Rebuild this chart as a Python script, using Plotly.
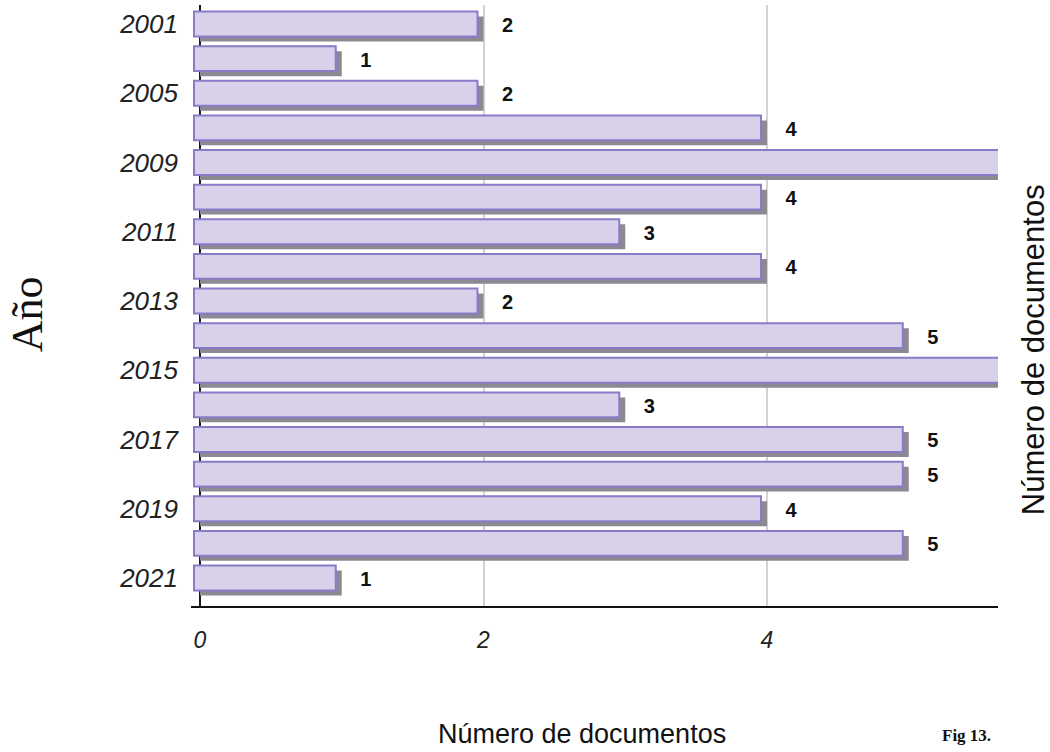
import plotly.graph_objects as go

# Documents per year
years = ["2001", "2003", "2005", "2007", "2009", "2010", "2011", "2012", "2013",
         "2014", "2015", "2016", "2017", "2018", "2019", "2020", "2021"]
documents = [2, 1, 2, 4, 6, 4, 3, 4, 2, 5, 6, 3, 5, 5, 4, 5, 1]
year_ticks = years[::2]
x_ticks = [0, 2, 4]

# Plot geometry (pixels) used to derive offset axes for the shadow effect
W, H = 1050, 752
plot_left, plot_right = 191, 998
plot_top, plot_bottom = 5, 605.7
px_per_unit = 141.75
x_lo = -(200 - plot_left) / px_per_unit
x_hi = x_lo + (plot_right - plot_left) / px_per_unit
y_range = [16.81, -0.55]
pitch = (plot_bottom - plot_top) / (y_range[0] - y_range[1])

bar_shift = 6 / px_per_unit      # main face sits a few px left of its shadow
label_shift = 24 / px_per_unit   # value labels sit right of the bar end
label_drop = 3 / pitch

FILL = "#d9d1ea"
EDGE = "#8a7bc9"
SHADOW = "#8d8993"

fig = go.Figure()

# shadow of each bar
fig.add_trace(go.Bar(
    x=documents, y=years, orientation="h",
    width=0.72, offset=-0.36 + 5 / pitch,
    marker=dict(color=SHADOW, line=dict(width=0)),
    xaxis="x", yaxis="y", hoverinfo="skip", showlegend=False,
))

# bar faces
fig.add_trace(go.Bar(
    x=documents, y=years, orientation="h",
    width=0.72, offset=-0.36,
    marker=dict(color=FILL, line=dict(color=EDGE, width=2)),
    xaxis="x2", yaxis="y", showlegend=False,
))

# value labels (only for bars whose end lies inside the visible range)
label_text = [str(v) if v + label_shift < x_hi - 0.1 else "" for v in documents]
fig.add_trace(go.Scatter(
    x=documents, y=years, mode="text",
    text=label_text, textposition="middle center",
    textfont=dict(family="Liberation Sans, Arial", size=20, color="#111111", weight="bold"),
    xaxis="x3", yaxis="y2", cliponaxis=True, hoverinfo="skip", showlegend=False,
))

fig.update_layout(
    width=W, height=H,
    margin=dict(l=plot_left, r=W - plot_right, t=plot_top, b=H - plot_bottom),
    paper_bgcolor="white", plot_bgcolor="white",
    barmode="overlay",
    xaxis=dict(
        range=[x_lo, x_hi], tickvals=x_ticks, ticktext=[str(t) for t in x_ticks],
        showgrid=True, gridcolor="#d2d2d2", gridwidth=1.5,
        zeroline=True, zerolinecolor="#1a1a1a", zerolinewidth=2,
        showline=True, linecolor="#111111", linewidth=2,
        ticks="", ticklabelstandoff=12,
        tickfont=dict(family="Liberation Sans, Arial", size=23, color="#222222", style="italic"),
        fixedrange=True,
    ),
    xaxis2=dict(
        range=[x_lo + bar_shift, x_hi + bar_shift], overlaying="x",
        visible=False, fixedrange=True,
    ),
    xaxis3=dict(
        range=[x_lo - label_shift, x_hi - label_shift], overlaying="x",
        visible=False, fixedrange=True,
    ),
    yaxis=dict(
        type="category", categoryorder="array", categoryarray=years,
        range=y_range, tickvals=year_ticks, ticktext=year_ticks,
        showgrid=False, zeroline=False, showline=False,
        ticks="", ticklabelstandoff=12,
        tickfont=dict(family="Liberation Sans, Arial", size=26, color="#222222", style="italic"),
        fixedrange=True,
    ),
    yaxis2=dict(
        type="category", categoryorder="array", categoryarray=years,
        range=[y_range[0] - label_drop, y_range[1] - label_drop],
        overlaying="y", visible=False, fixedrange=True,
    ),
)

plot_h = plot_bottom - plot_top


def paper_y(py):
    return (plot_bottom - py) / plot_h


fig.add_annotation(
    text="Año", xref="paper", yref="paper", x=0, y=paper_y(314),
    xshift=-(plot_left - 27), xanchor="center", yanchor="middle",
    textangle=-90, showarrow=False,
    font=dict(family="Liberation Serif, Times New Roman", size=44, color="#111111"),
)
fig.add_annotation(
    text="Número de documentos", xref="paper", yref="paper", x=1, y=paper_y(350),
    xshift=1033 - plot_right, xanchor="center", yanchor="middle",
    textangle=-90, showarrow=False,
    font=dict(family="Liberation Sans, Arial", size=31, color="#111111"),
)
fig.add_annotation(
    text="Número de documentos", xref="paper", yref="paper",
    x=(582 - plot_left) / (plot_right - plot_left), y=paper_y(734),
    xanchor="center", yanchor="middle", showarrow=False,
    font=dict(family="Liberation Sans, Arial", size=27, color="#111111"),
)
fig.add_annotation(
    text="<b>Fig 13.</b>", xref="paper", yref="paper",
    x=(966 - plot_left) / (plot_right - plot_left), y=paper_y(735),
    xanchor="center", yanchor="middle", showarrow=False,
    font=dict(family="Liberation Serif, Times New Roman", size=17, color="#111111"),
)

fig.write_html("out.html")
